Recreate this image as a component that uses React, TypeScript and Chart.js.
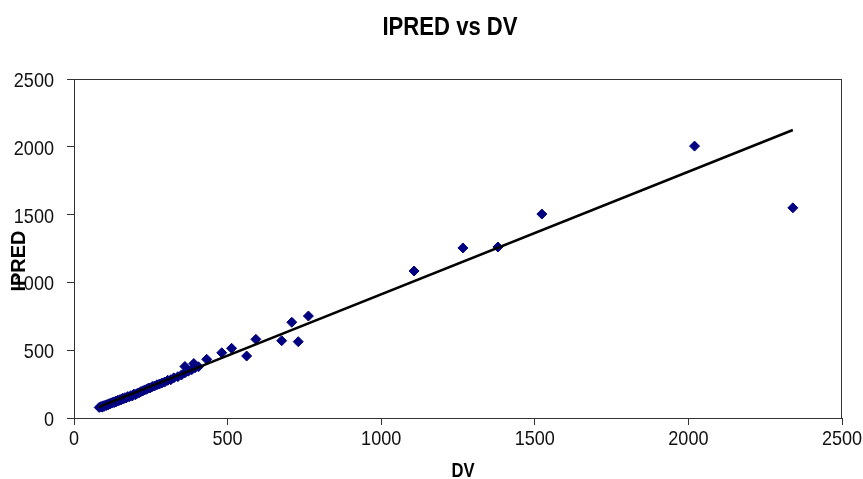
import React, { useEffect, useRef } from "react";
import { Chart, registerables } from "chart.js";

Chart.register(...registerables);

const TITLE = "IPRED vs DV";
const X_TITLE = "DV";
const Y_TITLE = "IPRED";

const dvValues = [
  82, 88, 92, 95, 98, 102, 105, 108, 112, 115, 118, 122, 125, 128, 132, 135, 138, 142, 146, 150,
  154, 158, 162, 166, 170, 175, 180, 185, 190, 195, 200, 206, 212, 218, 224, 230, 236, 242, 248, 255,
  262, 270, 278, 286, 295, 305, 315, 325, 338, 350, 361, 372, 383, 394, 405, 361, 390,
  432, 481, 513, 562, 592, 676, 709, 730, 763, 1107, 1266, 1380, 1523, 2020, 2340,
];
const ipredValues = [
  78, 85, 80, 90, 86, 95, 92, 100, 98, 106, 104, 112, 110, 118, 115, 124, 120, 130, 128, 136,
  134, 145, 142, 150, 148, 158, 156, 165, 163, 176, 172, 182, 186, 195, 200, 207, 212, 220, 222, 232,
  236, 245, 250, 258, 265, 278, 282, 296, 305, 318, 333, 345, 356, 370, 378, 380, 402,
  433, 481, 514, 457, 580, 570, 706, 563, 752, 1084, 1254, 1261, 1504, 2005, 1550,
];

const fitX = [80, 2340];
const fitY = [80, 2124];

const axisMin = 0;
const axisMax = 2500;
const axisStep = 500;

const FONT = "'Liberation Sans', Arial, sans-serif";

function narrowText(ctx: any, text: string, x: number, y: number, scaleX: number, align: string) {
  ctx.save();
  ctx.translate(x, y);
  ctx.scale(scaleX, 1);
  ctx.textAlign = align;
  ctx.fillText(text, 0, 0);
  ctx.restore();
}

export default function App() {
  const ref = useRef<HTMLCanvasElement | null>(null);

  useEffect(() => {
    const canvas = ref.current;
    if (!canvas) return;

    const textPlugin = {
      id: "customText",
      afterDraw(chart: any) {
        const { ctx, chartArea, scales } = chart;
        ctx.save();
        // frame
        ctx.strokeStyle = "#333";
        ctx.lineWidth = 1;
        ctx.strokeRect(
          Math.round(chartArea.left) + 0.5,
          Math.round(chartArea.top) + 0.5,
          Math.round(chartArea.right - chartArea.left) - 1,
          Math.round(chartArea.bottom - chartArea.top)
        );
        ctx.fillStyle = "#111";
        ctx.textBaseline = "alphabetic";
        // tick labels
        ctx.font = `21px ${FONT}`;
        const xs = scales.x;
        xs.ticks.forEach((t: any) => {
          const px = xs.getPixelForValue(t.value);
          narrowText(ctx, String(t.value), px, 445, 0.86, "center");
        });
        const ys = scales.y;
        ys.ticks.forEach((t: any) => {
          const py = ys.getPixelForValue(t.value);
          narrowText(ctx, String(t.value), 54, py + 8, 0.86, "right");
        });
        // titles
        ctx.fillStyle = "#000";
        ctx.font = `bold 26px ${FONT}`;
        narrowText(ctx, TITLE, 450, 35, 0.85, "center");
        ctx.font = `bold 21px ${FONT}`;
        narrowText(ctx, X_TITLE, 463, 477, 0.79, "center");
        ctx.font = `bold 20px ${FONT}`;
        ctx.translate(19, 261);
        ctx.rotate(-Math.PI / 2);
        ctx.textAlign = "center";
        ctx.textBaseline = "middle";
        ctx.fillText(Y_TITLE, 0, 0);
        ctx.restore();
      },
    };

    const points = dvValues.map((x, i) => ({ x, y: ipredValues[i] }));
    const fit = fitX.map((x, i) => ({ x, y: fitY[i] }));

    const chart = new Chart(canvas, {
      type: "scatter",
      data: {
        datasets: [
          {
            type: "line",
            data: fit,
            borderColor: "#000",
            borderWidth: 2.5,
            pointRadius: 0,
            fill: false,
            order: 0,
          } as any,
          {
            data: points,
            pointStyle: "rectRot",
            pointRadius: 5,
            pointBorderWidth: 1,
            pointBackgroundColor: "#000080",
            pointBorderColor: "#000080",
            order: 1,
          } as any,
        ],
      },
      options: {
        animation: false,
        responsive: false,
        layout: { padding: { top: 79, right: 21, left: 0, bottom: 0 } },
        plugins: {
          legend: { display: false },
          title: { display: false },
          tooltip: { enabled: false },
        },
        scales: {
          x: {
            type: "linear",
            min: axisMin,
            max: axisMax,
            afterFit: (s: any) => {
              s.height = 61;
            },
            border: { display: false },
            grid: {
              drawOnChartArea: false,
              drawTicks: true,
              tickLength: 7,
              color: "#333",
            },
            ticks: {
              stepSize: axisStep,
              display: false,
            },
          },
          y: {
            type: "linear",
            min: axisMin,
            max: axisMax,
            afterFit: (s: any) => {
              s.width = 74;
            },
            border: { display: false },
            grid: {
              drawOnChartArea: false,
              drawTicks: true,
              tickLength: 7,
              color: "#333",
            },
            ticks: {
              stepSize: axisStep,
              display: false,
            },
          },
        },
      },
      plugins: [textPlugin],
    });

    return () => chart.destroy();
  }, []);

  return (
    <div style={{ position: "fixed", left: 0, top: 0, width: 863, height: 479, background: "#fff" }}>
      <canvas ref={ref} width={863} height={479} style={{ display: "block" }} />
    </div>
  );
}
